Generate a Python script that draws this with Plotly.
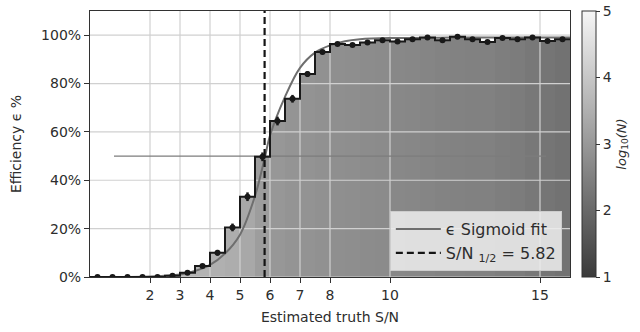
import numpy as np
import plotly.graph_objects as go

# ---- data ----
bin_centers = [0.25, 0.75, 1.25, 1.75, 2.25, 2.75, 3.25, 3.75, 4.25, 4.75, 5.25, 5.75,
               6.25, 6.75, 7.25, 7.75, 8.25, 8.75, 9.25, 9.75, 10.25, 10.75, 11.25, 11.75,
               12.25, 12.75, 13.25, 13.75, 14.25, 14.75, 15.25, 15.75]
efficiency = [0.0, 0.0, 0.0, 0.0, 0.0, 0.005, 0.018, 0.045, 0.10, 0.205, 0.332, 0.497,
              0.645, 0.737, 0.839, 0.930, 0.964, 0.959, 0.970, 0.979, 0.974, 0.983, 0.990, 0.979,
              0.993, 0.983, 0.972, 0.988, 0.983, 0.990, 0.976, 0.983]
eff_err = [0.002, 0.002, 0.002, 0.002, 0.002, 0.003, 0.006, 0.008, 0.012, 0.016, 0.018, 0.018,
           0.018, 0.016, 0.012, 0.009, 0.007, 0.007, 0.006, 0.006, 0.006, 0.005, 0.005, 0.006,
           0.005, 0.006, 0.007, 0.006, 0.006, 0.006, 0.007, 0.007]
log10_n = [3.9, 3.9, 3.85, 3.8, 3.75, 3.7, 3.62, 3.58, 3.52, 3.45, 3.35, 3.1,
           2.98, 2.92, 2.9, 2.85, 2.8, 2.78, 2.74, 2.72, 2.66, 2.64, 2.6, 2.56,
           2.54, 2.52, 2.5, 2.45, 2.4, 2.32, 2.25, 2.2]

fit_x = [0.0, 1.0, 2.0, 2.5, 3.0, 3.5, 4.0, 4.5, 5.0, 5.5, 5.82, 6.0, 6.5, 7.0, 7.5, 8.0, 8.5, 9.0, 10.0, 12.0, 14.0, 16.0]
fit_y = [0.0, 0.0, 0.002, 0.005, 0.01, 0.025, 0.05, 0.097, 0.175, 0.335, 0.49, 0.585, 0.745, 0.865, 0.928, 0.958, 0.975, 0.983, 0.988, 0.99, 0.99, 0.99]

sn_half = 5.82
x_ticks = [2, 3, 4, 5, 6, 7, 8, 10, 15]
y_ticks = [0, 0.2, 0.4, 0.6, 0.8, 1.0]
x_range = [0, 16]
y_range = [0, 1.1]
bin_width = 0.5

FONT = "DejaVu Sans"
TXT = "rgb(45,45,45)"

centers = np.array(bin_centers)
edges = np.append(centers - bin_width / 2, centers[-1] + bin_width / 2)
step_y = list(efficiency) + [efficiency[-1]]

fig = go.Figure()

# filled columns coloured by log10(N)
fig.add_trace(go.Bar(
    x=bin_centers, y=efficiency, width=bin_width,
    marker=dict(color=log10_n, colorscale=[[0, "rgb(58,58,58)"], [1, "rgb(246,246,246)"]],
                cmin=1, cmax=5, line=dict(width=0),
                colorbar=dict(thickness=14, len=1, lenmode="fraction", y=0.5, yanchor="middle",
                              x=1.025, xanchor="left", xpad=0, ypad=0,
                              outlinecolor="rgb(50,50,50)", outlinewidth=1,
                              tickvals=[1, 2, 3, 4, 5], ticks="outside", ticklen=4,
                              tickcolor="rgb(50,50,50)",
                              tickfont=dict(family=FONT, size=14, color=TXT),
                              title=dict(text="<i>log</i><sub>10</sub><i>(N)</i>", side="right",
                                         font=dict(family=FONT, size=13, color=TXT))),
                showscale=True),
    showlegend=False, hoverinfo="skip"))

# grid lines drawn above the fill
gx, gy = [], []
for t in x_ticks:
    gx += [t, t, None]
    gy += [y_range[0], y_range[1], None]
for t in y_ticks:
    gx += [x_range[0], x_range[1], None]
    gy += [t, t, None]
fig.add_trace(go.Scatter(x=gx, y=gy, mode="lines", line=dict(color="rgb(208,208,208)", width=1.2),
                         showlegend=False, hoverinfo="skip"))

# 50% reference line (5%..95% of axis width)
span = x_range[1] - x_range[0]
fig.add_trace(go.Scatter(x=[x_range[0] + 0.05 * span, x_range[0] + 0.95 * span], y=[0.5, 0.5],
                         mode="lines", line=dict(color="rgb(125,125,125)", width=1.2),
                         showlegend=False, hoverinfo="skip"))

# sigmoid fit
fig.add_trace(go.Scatter(x=fit_x, y=fit_y, mode="lines", line=dict(color="rgb(110,110,110)", width=2, shape="spline"),
                         name="ϵ Sigmoid fit"))

# step histogram outline
fig.add_trace(go.Scatter(x=edges, y=step_y, mode="lines", line=dict(color="rgb(25,25,25)", width=2, shape="hv"),
                         showlegend=False, hoverinfo="skip"))

# points with error bars
fig.add_trace(go.Scatter(x=bin_centers, y=efficiency, mode="markers",
                         marker=dict(color="rgb(25,25,25)", size=6),
                         error_y=dict(type="data", array=eff_err, visible=True, color="rgb(25,25,25)",
                                      thickness=2.5, width=0),
                         showlegend=False))

# S/N_1/2 dashed line
fig.add_trace(go.Scatter(x=[sn_half, sn_half], y=y_range, mode="lines",
                         line=dict(color="rgb(20,20,20)", width=2.2, dash="7px,4px"),
                         name="S/N <sub>1/2</sub> = 5.82"))

axis_common = dict(showline=True, linecolor="rgb(50,50,50)", linewidth=1.2, mirror=True,
                   ticks="outside", ticklen=5, tickcolor="rgb(50,50,50)", showgrid=False,
                   zeroline=False, tickfont=dict(family=FONT, size=14, color=TXT))

fig.update_layout(
    width=640, height=332,
    margin=dict(l=90, r=70, t=11, b=55, autoexpand=False),
    paper_bgcolor="white", plot_bgcolor="white",
    bargap=0,
    xaxis=dict(range=x_range, tickvals=x_ticks, **axis_common,
               title=dict(text="Estimated truth S/N", font=dict(family=FONT, size=14, color=TXT), standoff=10)),
    yaxis=dict(range=y_range, tickvals=y_ticks, tickformat=".0%", **axis_common,
               title=dict(text="Efficiency ϵ %", font=dict(family=FONT, size=14, color=TXT), standoff=16)),
    legend=dict(x=0.983, y=0.022, xanchor="right", yanchor="bottom",
                bgcolor="rgba(236,236,236,0.88)", bordercolor="rgb(205,205,205)", borderwidth=1,
                font=dict(family=FONT, size=16, color=TXT), tracegroupgap=0, itemwidth=45),
    showlegend=True,
)

fig.write_html("out.html", config={"displayModeBar": False},
               post_script="document.body.style.margin='0';document.body.style.overflow='hidden';")
